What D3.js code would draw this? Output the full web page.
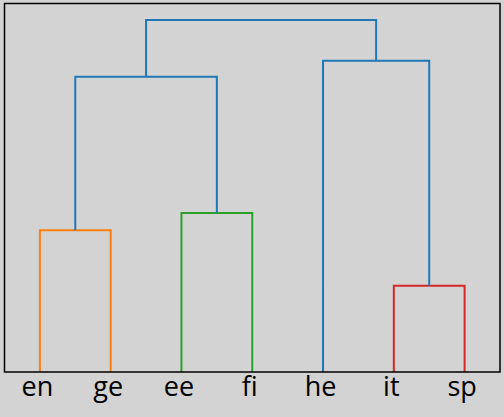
<!DOCTYPE html>
<html>
<head>
<meta charset="utf-8">
<script src="https://cdn.jsdelivr.net/npm/d3@7"></script>
<style>
  body { margin: 0; background: #d3d3d3; }
  svg { display: block; }
</style>
</head>
<body>
<script>
const measurements = {
    width: 504,
    height: 417
}
const margin = { left: 4.5, right: 4, top: 3.5, bottom: 45 }

// leaf labels in dendrogram order
const leaves = ['en', 'ge', 'ee', 'fi', 'he', 'it', 'sp']

// merges: [left child, right child, height, colour]
// children < 7 are leaves, otherwise index 7 + merge number
const merges = [
    [5, 6, 0.245, '#d62728'],   // 7: it + sp
    [0, 1, 0.403, '#ff7f0e'],   // 8: en + ge
    [2, 3, 0.452, '#2ca02c'],   // 9: ee + fi
    [8, 9, 0.839, '#1f77b4'],   // 10
    [4, 7, 0.884, '#1f77b4'],   // 11
    [10, 11, 1.0, '#1f77b4']    // 12
]

const svg = d3.select('body').append('svg')
    .attr('width', measurements.width)
    .attr('height', measurements.height)

svg.append('rect')
    .attr('width', measurements.width)
    .attr('height', measurements.height)
    .attr('fill', '#d3d3d3')

const x = d3.scaleLinear()
    .domain([0, leaves.length * 10])
    .range([margin.left, measurements.width - margin.right])

const y = d3.scaleLinear()
    .domain([0, 1.047])
    .range([measurements.height - margin.bottom, margin.top])

// position of every node (leaf or merge)
const nodes = leaves.map((d, i) => ({ x: 5 + i * 10, h: 0 }))
merges.forEach(m => {
    const a = nodes[m[0]], b = nodes[m[1]]
    nodes.push({ x: (a.x + b.x) / 2, h: m[2], a: a, b: b, color: m[3] })
})

const g = svg.append('g')

g.selectAll('path')
    .data(nodes.filter(d => d.a))
    .enter()
    .append('path')
    .attr('fill', 'none')
    .attr('stroke', d => d.color)
    .attr('stroke-width', 2)
    .attr('d', d => 'M' + x(d.a.x) + ',' + y(d.a.h) +
        'V' + y(d.h) + 'H' + x(d.b.x) + 'V' + y(d.b.h))

// frame
svg.append('rect')
    .attr('x', x(0))
    .attr('y', y(1.047))
    .attr('width', x(70) - x(0))
    .attr('height', y(0) - y(1.047))
    .attr('fill', 'none')
    .attr('stroke', '#000')
    .attr('stroke-width', 1.5)

// leaf labels
const axis = d3.axisBottom(x)
    .tickValues(leaves.map((d, i) => 5 + i * 10))
    .tickFormat((d, i) => leaves[i])
    .tickSize(0)
    .tickPadding(5)

const ax = svg.append('g')
    .attr('transform', 'translate(0,' + y(0) + ')')
    .call(axis)
ax.select('.domain').remove()
ax.selectAll('text')
    .attr('font-family', 'Open Sans')
    .attr('font-size', 27)
    .attr('dx', -3)
    .attr('fill', '#000')
</script>
</body>
</html>
